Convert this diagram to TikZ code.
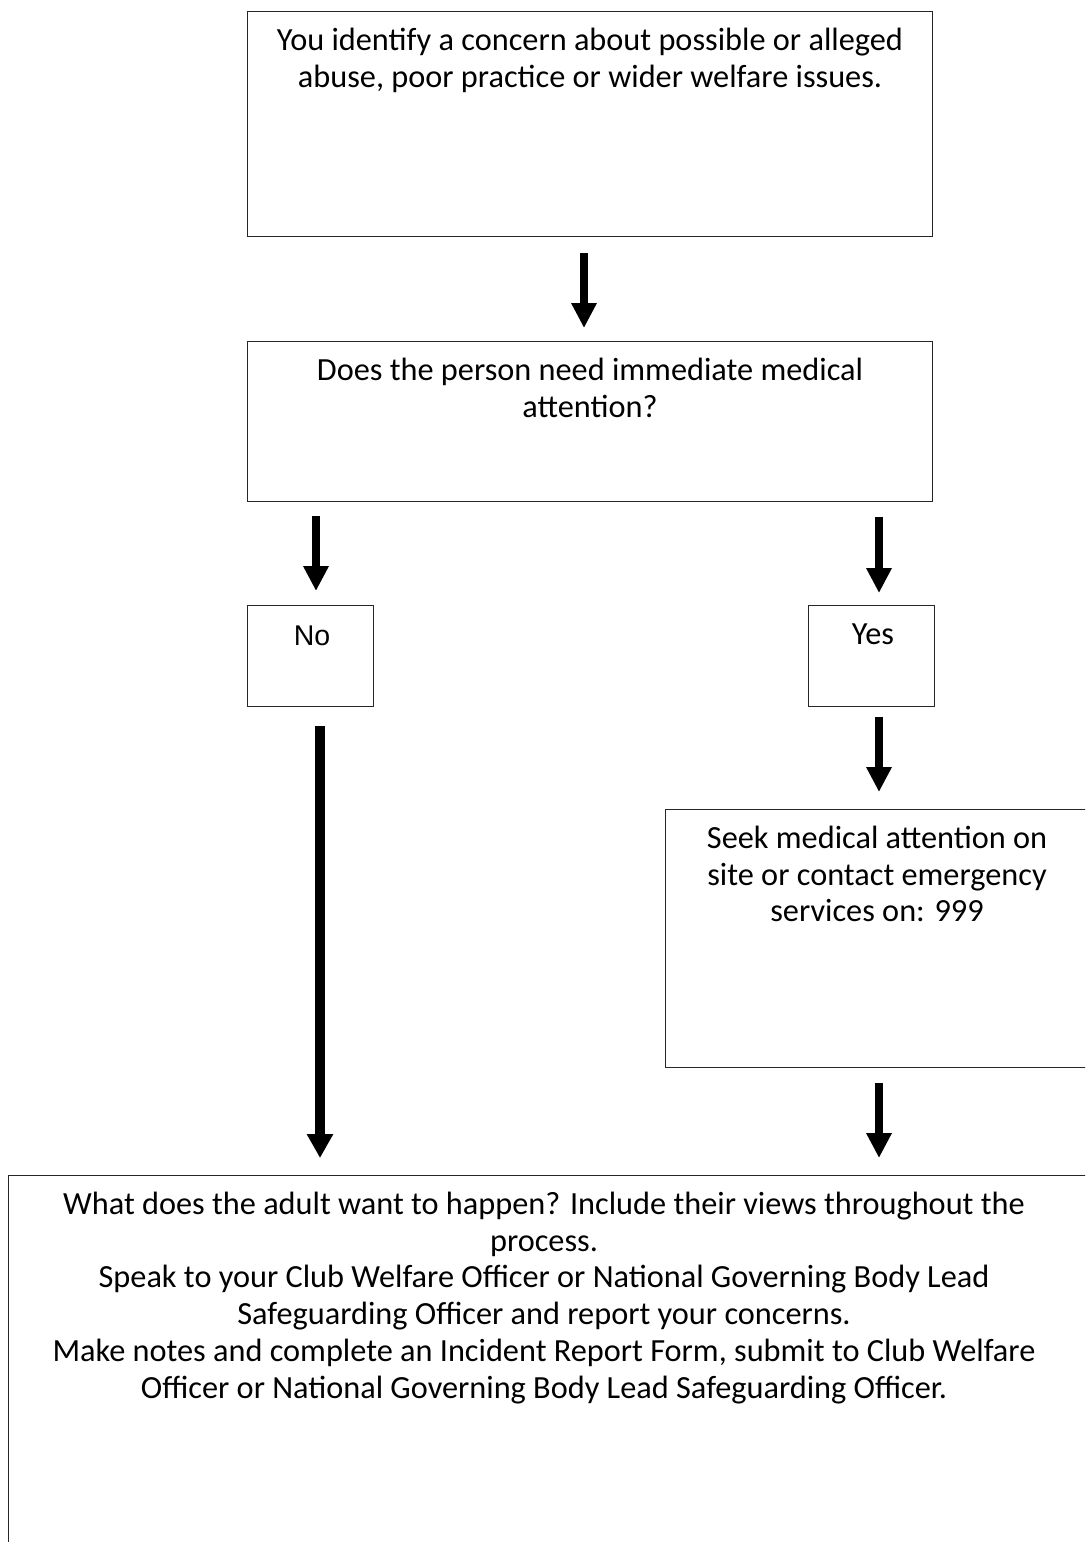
\documentclass[tikz,border=0pt]{standalone}
\usepackage{fontspec}
\setmainfont{Carlito}
\newfontfamily\arialf{Liberation Sans}
\usetikzlibrary{arrows.meta}
\newcommand{\firstline}{\rule{0pt}{24pt}}
\begin{document}
\begin{tikzpicture}[x=1pt,y=-1pt,
  box/.style={draw=black!85, line width=1.4pt, inner sep=0pt, anchor=north west},
  txt/.style={align=center, font=\fontsize{32.3}{36.8}\selectfont, inner sep=0pt, anchor=north},
  arr/.style={line width=8pt, -{Triangle[width=24pt,length=25pt]}},
  arrwide/.style={line width=10pt, -{Triangle[width=25pt,length=24pt]}}]
\useasboundingbox (0,0) rectangle (1085,1542);
\clip (0,0) rectangle (1085,1542);
% boxes
\node[box, minimum width=685pt, minimum height=225pt] (b1) at (247,11) {};
\node[box, minimum width=685pt, minimum height=160pt] (b2) at (247,341) {};
\node[box, minimum width=126pt, minimum height=101pt] (bno) at (247,605) {};
\node[box, minimum width=126pt, minimum height=101pt] (byes) at (808,605) {};
\node[box, minimum width=430pt, minimum height=258pt] (bseek) at (665,809) {};
\node[box, minimum width=1090pt, minimum height=420pt] (bend) at (8,1175) {};
% texts (first baseline = box top + 39)
\node[txt] (t1) at (590,26) {\firstline You identify a concern about possible or alleged\\abuse, poor practice or wider welfare issues.};
\node[txt] (t2) at (590,356) {\firstline Does the person need immediate medical\\attention?};
\node[txt, font=\arialf\fontsize{28.5}{32}\selectfont] (tno) at (312,621) {\firstline No};
\node[txt] (tyes) at (873,620) {\firstline Yes};
\node[txt] (tseek) at (877,824) {\firstline Seek medical attention on\\site or contact emergency\\services on: 999};
\node[txt] (tend) at (544,1190) {\firstline What does the adult want to happen? Include their views throughout the\\process.\\Speak to your Club Welfare Officer or National Governing Body Lead\\Safeguarding Officer and report your concerns.\\Make notes and complete an Incident Report Form, submit to Club Welfare\\Officer or National Governing Body Lead Safeguarding Officer.};
% arrow end points
\coordinate (a1s) at (584,253); \coordinate (a1e) at (584,328);
\coordinate (a2s) at (316,516); \coordinate (a2e) at (316,591);
\coordinate (a3s) at (879,517); \coordinate (a3e) at (879,593);
\coordinate (a4s) at (879,717); \coordinate (a4e) at (879,792);
\coordinate (a5s) at (320,726); \coordinate (a5e) at (320,1158);
\coordinate (a6s) at (879,1083); \coordinate (a6e) at (879,1158);
\draw[arr] (a1s) -- (a1e);
\draw[arr] (a2s) -- (a2e);
\draw[arr] (a3s) -- (a3e);
\draw[arr] (a4s) -- (a4e);
\draw[arrwide] (a5s) -- (a5e);
\draw[arr] (a6s) -- (a6e);
\end{tikzpicture}
\end{document}
